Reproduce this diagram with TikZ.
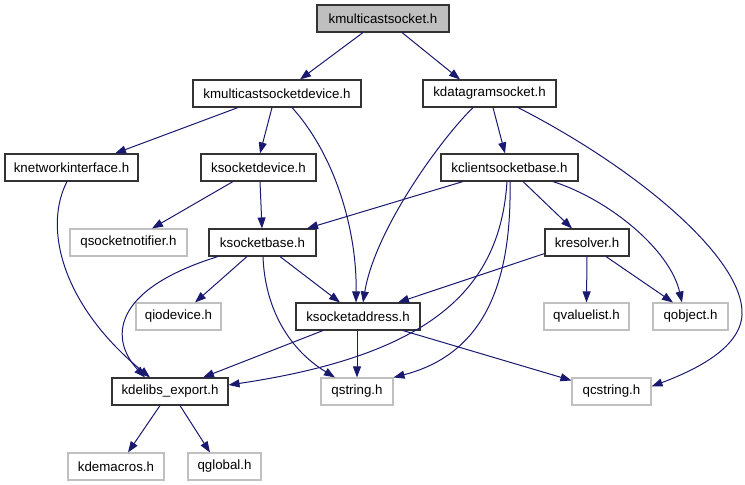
\documentclass[tikz,border=0pt]{standalone}
\usepackage{fontspec}
\setmainfont{Liberation Sans}
\usetikzlibrary{arrows.meta}
\definecolor{edgeblue}{RGB}{25,25,112}
\definecolor{boxgray}{RGB}{191,191,191}
\definecolor{lightborder}{RGB}{192,192,192}
\begin{document}
\begin{tikzpicture}[x=1pt,y=-1pt,
  every node/.style={font=\fontsize{13.3}{16}\selectfont, inner sep=0pt, minimum height=27pt, anchor=center},
  blk/.style={draw=black!80, line width=1.1pt, fill=white},
  ext/.style={draw=lightborder, line width=1.1pt, fill=white},
  top/.style={draw=black!80, line width=1.1pt, fill=boxgray},
  edge/.style={draw=edgeblue, line width=1pt, -{Triangle[length=11pt,width=8pt]}}
]
\useasboundingbox (0,0) rectangle (745,485);
% nodes
\node[top, minimum width=132pt] (kms) at (383,18.5) {kmulticastsocket.h};
\node[blk, minimum width=168pt] (kmsd) at (277,93.5) {kmulticastsocketdevice.h};
\node[blk, minimum width=133pt] (kdg) at (489.5,93.5) {kdatagramsocket.h};
\node[blk, minimum width=133pt] (kni) at (71.5,167.5) {knetworkinterface.h};
\node[blk, minimum width=115pt] (ksd) at (258.5,167.5) {ksocketdevice.h};
\node[blk, minimum width=137pt] (kcsb) at (509.5,167.5) {kclientsocketbase.h};
\node[ext, minimum width=117pt] (qsn) at (128.5,242.5) {qsocketnotifier.h};
\node[blk, minimum width=107pt] (ksb) at (262.5,242.5) {ksocketbase.h};
\node[blk, minimum width=84pt] (kres) at (587,242.5) {kresolver.h};
\node[ext, minimum width=85pt] (qio) at (178.5,316.5) {qiodevice.h};
\node[blk, minimum width=124pt] (ksa) at (358,316.5) {ksocketaddress.h};
\node[ext, minimum width=85pt] (qvl) at (586.5,316.5) {qvaluelist.h};
\node[ext, minimum width=75pt] (qobj) at (690.5,316.5) {qobject.h};
\node[blk, minimum width=116pt] (kde) at (170,391.5) {kdelibs\_export.h};
\node[ext, minimum width=72pt] (qstr) at (357,391.5) {qstring.h};
\node[ext, minimum width=79pt] (qcs) at (611.5,391.5) {qcstring.h};
\node[ext, minimum width=96pt] (kdm) at (116,466.5) {kdemacros.h};
\node[ext, minimum width=73pt] (qgl) at (224.5,466.5) {qglobal.h};
% edges
\draw[edge] ([xshift=-20pt]kms.south) -- ([xshift=23pt]kmsd.north);
\draw[edge] ([xshift=19pt]kms.south) -- ([xshift=-29.5pt]kdg.north);
\draw[edge] ([xshift=-39pt]kmsd.south) -- ([xshift=43.5pt]kni.north);
\draw[edge] ([xshift=-5pt]kmsd.south) -- ([xshift=1.5pt]ksd.north);
\draw[edge] ([xshift=15pt]kmsd.south) .. controls (335,155) and (357,230) .. ([xshift=-2pt]ksa.north);
\draw[edge] ([xshift=3.5pt]kdg.south) -- ([xshift=-4.5pt]kcsb.north);
\draw[edge] ([xshift=-16.5pt]kdg.south) .. controls (440,140) and (375,230) .. ([xshift=5pt]ksa.north);
\draw[edge] ([xshift=28.5pt]kdg.south) .. controls (640,170) and (745,260) .. (742,315) .. controls (740,350) and (690,372) .. ([yshift=-9pt]qcs.north east);
\draw[edge] ([xshift=-4.5pt]kni.south) .. controls (43,228) and (62,305) .. ([xshift=-20pt]kde.north);
\draw[edge] ([xshift=-25.5pt]ksd.south) -- ([xshift=23.5pt]qsn.north);
\draw[edge] ([xshift=1.5pt]ksd.south) -- ([xshift=-0.5pt]ksb.north);
\draw[edge] ([xshift=-46.5pt]kcsb.south) -- ([xshift=44.5pt]ksb.north);
\draw[edge] ([xshift=13.5pt]kcsb.south) -- ([xshift=-15pt]kres.north);
\draw[edge] ([xshift=43.5pt]kcsb.south) .. controls (610,200) and (670,250) .. ([xshift=-8.5pt]qobj.north);
\draw[edge] ([xshift=-2.5pt]kcsb.south) .. controls (500,290) and (430,355) .. ([yshift=6.5pt]kde.east);
\draw[edge] ([xshift=0.5pt]kcsb.south) .. controls (512,290) and (480,355) .. (qstr.north east);
\draw[edge] ([xshift=-15.5pt]ksb.south) -- ([xshift=16.5pt]qio.north);
\draw[edge] ([xshift=17.5pt]ksb.south) -- ([xshift=-18pt]ksa.north);
\draw[edge] ([xshift=0.5pt]ksb.south) .. controls (265,310) and (290,350) .. ([xshift=-22pt]qstr.north);
\draw[edge] ([xshift=-44.5pt]ksb.south) .. controls (110,290) and (110,340) .. ([xshift=-25pt]kde.north);
\draw[edge] ([yshift=3pt]kres.south west) -- ([xshift=40pt]ksa.north);
\draw[edge] (kres.south) -- (qvl.north);
\draw[edge] ([xshift=19pt]kres.south) -- ([xshift=-17.5pt]qobj.north);
\draw[edge] ([xshift=-35pt]ksa.south) -- ([xshift=33pt]kde.north);
\draw[edge] ([xshift=-1pt]ksa.south) -- (qstr.north);
\draw[edge] ([xshift=45pt]ksa.south) -- ([yshift=-3pt]qcs.north west);
\draw[edge] ([xshift=-10pt]kde.south) -- ([xshift=12pt]kdm.north);
\draw[edge] ([xshift=10pt]kde.south) -- ([xshift=-14.5pt]qgl.north);
\end{tikzpicture}
\end{document}
